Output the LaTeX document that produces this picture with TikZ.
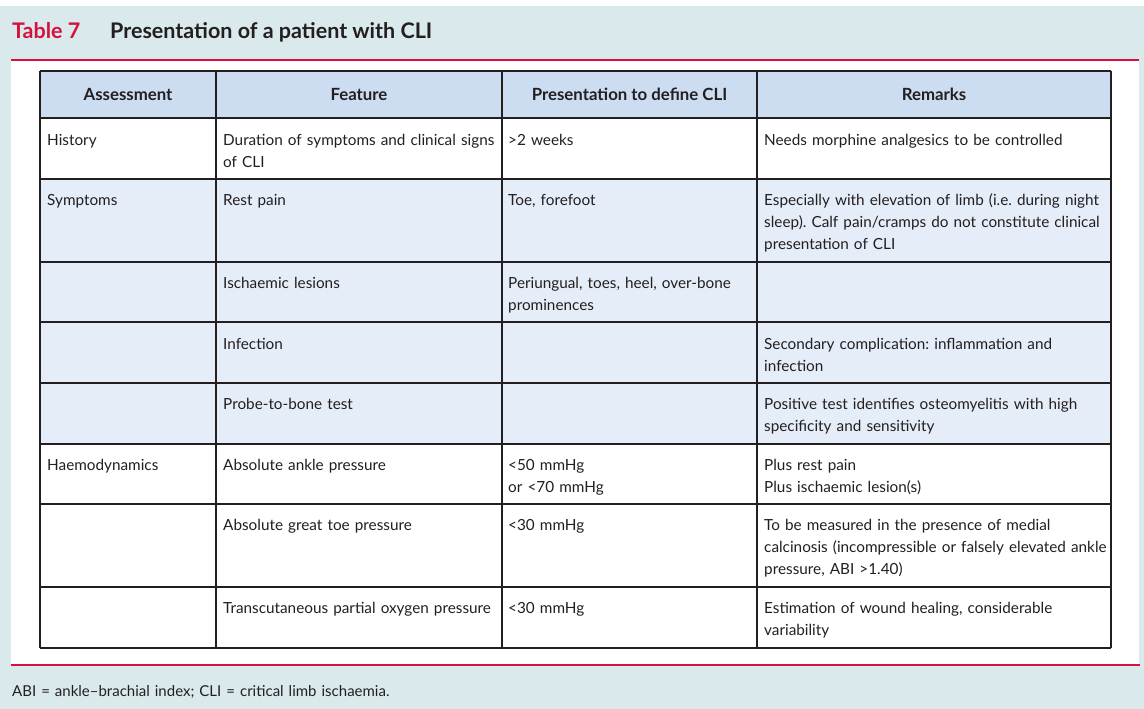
\documentclass[tikz,border=0pt]{standalone}
\usepackage{fontspec}
\setmainfont{Lato}
\frenchspacing
\definecolor{bgblue}{RGB}{217,233,236}
\definecolor{clired}{RGB}{214,17,62}
\definecolor{headblue}{RGB}{204,221,242}
\definecolor{rowblue}{RGB}{229,237,248}
\definecolor{ink}{RGB}{35,31,32}
\begin{document}
\begin{tikzpicture}[x=1pt,y=-1pt,
  cell/.style={anchor=base west,inner sep=0pt,align=left,text width=345pt,text=ink,font=\fontsize{15.3}{22}\selectfont},
  head/.style={anchor=base,inner sep=0pt,text=ink,font=\fontsize{16.8}{22}\selectfont\bfseries},
  title/.style={anchor=base west,inner sep=0pt,font=\fontsize{21.5}{24}\selectfont\bfseries},
  grid/.style={draw=ink,line width=1.3pt},
  redline/.style={draw=clired,line width=2.5pt}]
\useasboundingbox (0,0) rectangle (1144,709);
% panel and rules
\fill[bgblue] (0,6) rectangle (1144,709);
\fill[white] (11,61) rectangle (1139,664);
\draw[redline] (11,60) -- (1139,60);
\draw[redline] (11,665) -- (1140,665);
\node[title,text=clired] (tabno) at (12,39) {Table 7};
\node[title,text=ink] (tabtitle) at (110,39) {Presentation of a patient with CLI};
% table
\fill[headblue] (40,71) rectangle (1111,118);
\fill[rowblue] (40,179) rectangle (1111,444);
\foreach \y in {71,118,179,262,322,383,444,504,587,648}
  \draw[grid] (40,\y) -- (1111,\y);
\foreach \x in {40,216,502,757,1111}
  \draw[grid] (\x,71) -- (\x,648);
\node[head] (hassess) at (128,101) {Assessment};
\node[head] (hfeat) at (359,101) {Feature};
\node[head] (hpres) at (629.5,101) {Presentation to define CLI};
\node[head] (hrem) at (934,101) {Remarks};
% history
\node[cell] (hist) at (47,145) {History};
\node[cell] (histfeat) at (223,145) {Duration of symptoms and clinical signs\\of CLI};
\node[cell] (histpres) at (508,145) {>2 weeks};
\node[cell] (histrem) at (764,145) {Needs morphine analgesics to be controlled};
% symptoms
\node[cell] (sympt) at (47,205) {Symptoms};
\node[cell] (rest) at (223,205) {Rest pain};
\node[cell] (restpres) at (508,205) {Toe, forefoot};
\node[cell] (restrem) at (764,205) {Especially with elevation of limb (i.e. during night\\sleep). Calf pain/cramps do not constitute clinical\\presentation of CLI};
\node[cell] (lesion) at (223,288) {Ischaemic lesions};
\node[cell] (lesionpres) at (508,288) {Periungual, toes, heel, over-bone\\prominences};
\node[cell] (infect) at (223,349) {Infection};
\node[cell] (infectrem) at (764,349) {Secondary complication: inflammation and\\infection};
\node[cell] (probe) at (223,409) {Probe-to-bone test};
\node[cell] (proberem) at (764,409) {Positive test identifies osteomyelitis with high\\specificity and sensitivity};
% haemodynamics
\node[cell] (haemo) at (47,470) {Haemodynamics};
\node[cell] (ankle) at (223,470) {Absolute ankle pressure};
\node[cell] (anklepres) at (508,470) {<50 mmHg\\or <70 mmHg};
\node[cell] (anklerem) at (764,470) {Plus rest pain\\Plus ischaemic lesion(s)};
\node[cell] (toe) at (223,530) {Absolute great toe pressure};
\node[cell] (toepres) at (508,530) {<30 mmHg};
\node[cell] (toerem) at (764,530) {To be measured in the presence of medial\\calcinosis (incompressible or falsely elevated ankle\\pressure, ABI >1.40)};
\node[cell] (tcpo) at (223,613) {Transcutaneous partial oxygen pressure};
\node[cell] (tcpopres) at (508,613) {<30 mmHg};
\node[cell] (tcporem) at (764,613) {Estimation of wound healing, considerable\\variability};
% footnote
\node[cell,text width=600pt,font=\fontsize{15}{18}\selectfont] (abbrev) at (12,696) {ABI = ankle–brachial index; CLI = critical limb ischaemia.};
\end{tikzpicture}
\end{document}
